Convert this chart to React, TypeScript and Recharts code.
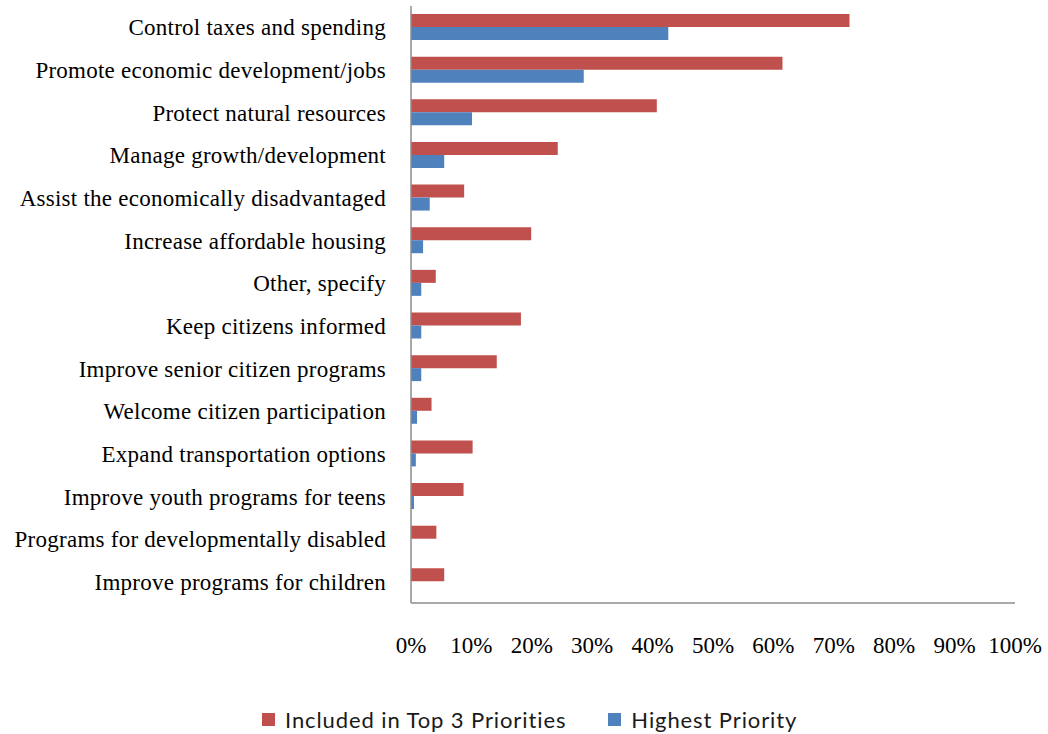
import React from 'react';
import { Bar, BarChart, Legend, XAxis, YAxis } from 'recharts';

const categories = [
  'Control taxes and spending',
  'Promote economic development/jobs',
  'Protect natural resources',
  'Manage growth/development',
  'Assist the economically disadvantaged',
  'Increase affordable housing',
  'Other, specify',
  'Keep citizens informed',
  'Improve senior citizen programs',
  'Welcome citizen participation',
  'Expand transportation options',
  'Improve youth programs for teens',
  'Programs for developmentally disabled',
  'Improve programs for children',
];

const top3 = [72.6, 61.5, 40.7, 24.3, 8.8, 19.9, 4.1, 18.2, 14.2, 3.4, 10.2, 8.7, 4.2, 5.5];
const highest = [42.6, 28.6, 10.1, 5.5, 3.1, 2.0, 1.7, 1.7, 1.7, 1.0, 0.8, 0.5, 0, 0];

const xTicks = [0, 10, 20, 30, 40, 50, 60, 70, 80, 90, 100];

const RED = '#C0504D';
const BLUE = '#4F81BD';

const seriesNames = ['Included in Top 3 Priorities', 'Highest Priority'];

const data = categories.map((name, i) => ({
  name,
  top3: top3[i],
  highest: highest[i],
}));

// recharts sorts legend items by name, so put them back in series order
const renderLegend = (props: any) => {
  const payload = [...(props.payload || [])].sort(
    (a: any, b: any) => seriesNames.indexOf(a.value) - seriesNames.indexOf(b.value)
  );
  return (
    <div
      style={{
        display: 'flex',
        alignItems: 'center',
        height: 30,
        paddingLeft: 262,
        fontFamily: 'Lato',
        fontSize: 22,
        letterSpacing: 0.9,
        color: '#1a1a1a',
      }}
    >
      {payload.map((entry: any, i: number) => (
        <div key={entry.value} style={{ display: 'flex', alignItems: 'center', marginLeft: i === 0 ? 0 : 42 }}>
          <span style={{ display: 'inline-block', width: 13, height: 13, background: entry.color, marginRight: 10 }} />
          <span>{entry.value}</span>
        </div>
      ))}
    </div>
  );
};

export default function App() {
  return (
    <div style={{ position: 'absolute', left: 0, top: 0, background: '#fff' }}>
      <BarChart
        width={1048}
        height={734}
        data={data}
        layout="vertical"
        margin={{ top: 6, right: 33, left: 0, bottom: 0 }}
        barGap={0}
        barSize={13}
      >
        <XAxis
          type="number"
          domain={[0, 100]}
          ticks={xTicks}
          tickFormatter={(v: number) => `${v}%`}
          tickLine={false}
          tickSize={0}
          tickMargin={34}
          height={101}
          axisLine={{ stroke: '#8c8c8c', strokeWidth: 1.5 }}
          tick={{ fill: '#000', fontFamily: 'Liberation Serif', fontSize: 23 }}
          interval={0}
        />
        <YAxis
          type="category"
          dataKey="name"
          width={411}
          tickLine={false}
          tickSize={0}
          tickMargin={25}
          axisLine={{ stroke: '#8c8c8c', strokeWidth: 1.5 }}
          tick={{ fill: '#000', fontFamily: 'Liberation Serif', fontSize: 23, letterSpacing: 0.25 }}
          interval={0}
        />
        <Legend verticalAlign="bottom" height={30} content={renderLegend} />
        <Bar dataKey="top3" name={seriesNames[0]} fill={RED} isAnimationActive={false} />
        <Bar dataKey="highest" name={seriesNames[1]} fill={BLUE} isAnimationActive={false} />
      </BarChart>
    </div>
  );
}
